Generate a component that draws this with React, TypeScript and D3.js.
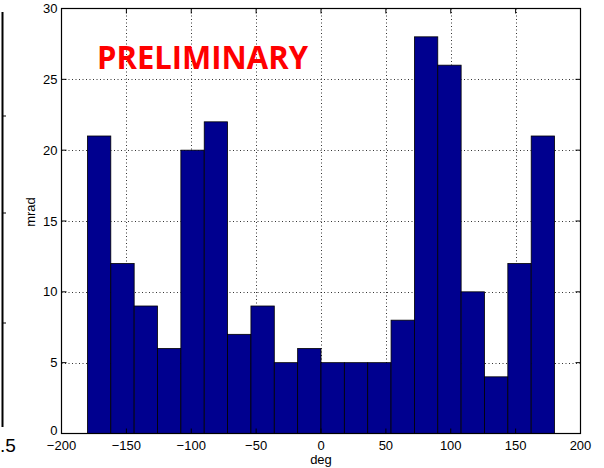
import React from "react";
import * as d3 from "d3";

// Histogram bin edges (deg) and counts (mrad)
const binStart = -180;
const binWidth = 18;
const counts = [21, 12, 9, 6, 20, 22, 7, 9, 5, 6, 5, 5, 5, 8, 28, 26, 10, 4, 12, 21];
const xTicks = [-200, -150, -100, -50, 0, 50, 100, 150, 200];
const yTicks = [0, 5, 10, 15, 20, 25, 30];
const sideTicksY = [116, 213, 323];

const W = 604;
const H = 468;
const left = 61.5;
const right = 580.5;
const top = 8.5;
const bottom = 433.5;
const font = "'Liberation Sans', Arial, Helvetica, sans-serif";

export default function App() {
  const x = d3.scaleLinear().domain([-200, 200]).range([left, right]);
  const y = d3.scaleLinear().domain([0, 30]).range([bottom, top]);
  const bins = counts.map((c, i) => ({
    x0: binStart + i * binWidth,
    x1: binStart + (i + 1) * binWidth,
    c,
  }));
  const tickLen = 5;

  return (
    <svg
      width={W}
      height={H}
      style={{ position: "absolute", left: 0, top: 0, background: "#fff" }}
      fontFamily={font}
    >
      <rect x={0} y={0} width={W} height={H} fill="#fff" />

      {/* neighbouring panel edge */}
      <line x1={2.5} x2={2.5} y1={12} y2={427} stroke="#000" strokeWidth={2} />
      {sideTicksY.map((t) => (
        <line key={t} x1={2} x2={6} y1={t} y2={t} stroke="#000" strokeWidth={1} />
      ))}
      <text x={0} y={452} fontSize={19} textAnchor="start" fill="#000">
        .5
      </text>

      {/* grid */}
      {xTicks.slice(1, -1).map((t) => (
        <line
          key={"gx" + t}
          x1={Math.round(x(t)) + 0.5}
          x2={Math.round(x(t)) + 0.5}
          y1={top}
          y2={bottom}
          stroke="#000"
          strokeWidth={0.8}
          strokeDasharray="1,2.5"
        />
      ))}
      {yTicks.slice(1, -1).map((t) => (
        <line
          key={"gy" + t}
          x1={left}
          x2={right}
          y1={Math.round(y(t)) + 0.5}
          y2={Math.round(y(t)) + 0.5}
          stroke="#000"
          strokeWidth={0.8}
          strokeDasharray="1,2.5"
        />
      ))}

      {/* bars */}
      {bins.map((b, i) => (
        <rect
          key={i}
          x={x(b.x0)}
          y={y(b.c)}
          width={x(b.x1) - x(b.x0)}
          height={y(0) - y(b.c)}
          fill="#00008f"
          stroke="#000"
          strokeWidth={0.8}
        />
      ))}

      {/* axes box */}
      <rect x={left} y={top} width={right - left} height={bottom - top} fill="none" stroke="#000" strokeWidth={1.2} />

      {xTicks.map((t) => (
        <g key={"tx" + t}>
          <line x1={x(t)} x2={x(t)} y1={bottom} y2={bottom - tickLen} stroke="#000" />
          <line x1={x(t)} x2={x(t)} y1={top} y2={top + tickLen} stroke="#000" />
          <text x={x(t)} y={450} fontSize={13} textAnchor="middle" fill="#000">
            {t < 0 ? "\u2212" + Math.abs(t) : String(t)}
          </text>
        </g>
      ))}
      {yTicks.map((t) => (
        <g key={"ty" + t}>
          <line x1={left} x2={left + tickLen} y1={y(t)} y2={y(t)} stroke="#000" />
          <line x1={right} x2={right - tickLen} y1={y(t)} y2={y(t)} stroke="#000" />
          <text x={57.5} y={y(t) + (t === 0 ? 1.5 : 4.5)} fontSize={13} textAnchor="end" fill="#000">
            {t}
          </text>
        </g>
      ))}

      <text x={x(0)} y={464} fontSize={13} textAnchor="middle" fill="#000">
        deg
      </text>
      <text
        transform={`translate(34.5, 212) rotate(-90)`}
        fontSize={13}
        textAnchor="middle"
        fill="#000"
      >
        mrad
      </text>

      <text
        x={97}
        y={69}
        fontSize={33}
        fontWeight="bold"
        fontFamily="'Open Sans', 'Noto Sans', 'DejaVu Sans', sans-serif"
        fill="#ff0000"
        textLength={211}
        lengthAdjust="spacingAndGlyphs"
      >
        PRELIMINARY
      </text>
    </svg>
  );
}
